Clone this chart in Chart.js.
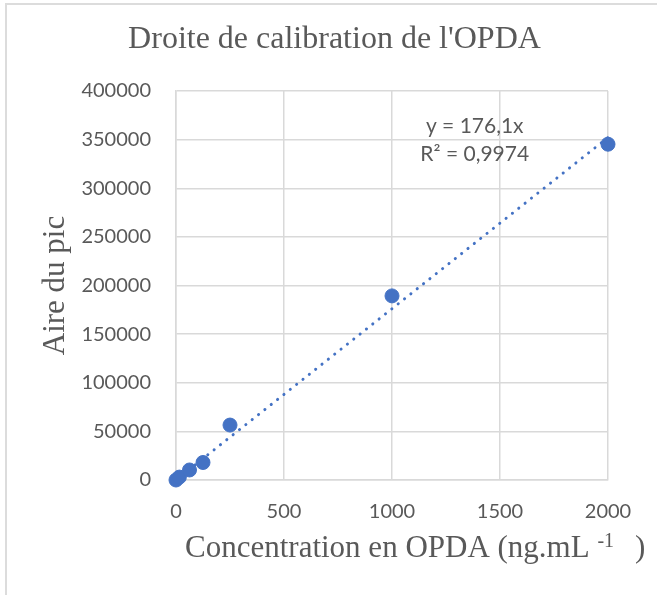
<!DOCTYPE html>
<html><head><meta charset="utf-8">
<script src="https://cdn.jsdelivr.net/npm/chart.js@4"></script>
<style>html,body{margin:0;padding:0;background:#fff;}#wrap{width:657px;height:595px;}</style>
</head><body><div id="wrap"><canvas id="c" width="657" height="595"></canvas></div>
<script>
const concentrations = [0, 15.6, 62.5, 125, 250, 1000, 2000];
const peakAreas = [0, 3000, 10300, 18000, 56500, 189300, 345300];
const trendX = [0, 2000];
const trendY = [0, 352200];
const xTicks = [0, 500, 1000, 1500, 2000];
const yTicks = [0, 50000, 100000, 150000, 200000, 250000, 300000, 350000, 400000];
const equationLines = ['y = 176,1x', 'R² = 0,9974'];
const equationAnchor = [1383, 364000, 335000];
const xTitleParts = ['Concentration en OPDA (ng.mL', '-1', ')'];

const TXT = '#595959', GRID = '#d9d9d9', BLUE = '#4472C4';
const tickFont = {family: 'Lato', size: 20};
const serif = {family: 'Liberation Serif', size: 31, weight: 'normal'};

const frame = {
  id: 'frame',
  beforeDraw(chart) {
    const c = chart.ctx; c.save();
    c.strokeStyle = '#dcdcdc'; c.lineWidth = 2;
    c.beginPath(); c.moveTo(6, 595); c.lineTo(6, 4); c.lineTo(657, 4); c.stroke();
    c.restore();
  }
};
const texts = {
  id: 'texts',
  afterDatasetsDraw(chart) {
    const c = chart.ctx, sx = chart.scales.x, sy = chart.scales.y;
    c.save();
    c.font = '21px Lato'; c.fillStyle = TXT; c.textAlign = 'center'; c.textBaseline = 'middle';
    const x = sx.getPixelForValue(equationAnchor[0]);
    c.fillText(equationLines[0], x, sy.getPixelForValue(equationAnchor[1]));
    c.fillText(equationLines[1], x, sy.getPixelForValue(equationAnchor[2]));
    // x-axis title with superscript
    c.textAlign = 'left'; c.textBaseline = 'alphabetic';
    const base = sx.bottom - 38.5;
    let px = sx.left + 9;
    c.font = '31px "Liberation Serif"';
    c.fillText(xTitleParts[0], px, base);
    px += c.measureText(xTitleParts[0] + ' ').width;
    c.font = '20px "Liberation Serif"';
    c.fillText(xTitleParts[1], px, base - 10);
    px += c.measureText(xTitleParts[1]).width + 21;
    c.font = '31px "Liberation Serif"';
    c.fillText(xTitleParts[2], px, base);
    c.restore();
  }
};

new Chart(document.getElementById('c'), {
  type: 'scatter',
  data: {
    datasets: [
      {
        label: 'Aire du pic',
        data: concentrations.map((x, i) => ({x, y: peakAreas[i]})),
        backgroundColor: BLUE, borderColor: BLUE, pointRadius: 7, pointHoverRadius: 7,
        showLine: false, clip: false
      },
      {
        label: 'Linéaire',
        data: trendX.map((x, i) => ({x, y: trendY[i]})),
        showLine: true, pointRadius: 0, borderColor: BLUE, borderWidth: 3,
        borderDash: [0.1, 8], borderCapStyle: 'round', clip: false
      }
    ]
  },
  options: {
    responsive: false, animation: false, devicePixelRatio: 1,
    layout: {padding: {left: 12, right: 0, top: 0, bottom: 0}},
    plugins: {
      legend: {display: false}, tooltip: {enabled: false},
      title: {display: true, text: "Droite de calibration de l'OPDA", color: TXT,
        font: {family: 'Liberation Serif', size: 32, weight: 'normal'}, padding: {top: 20, bottom: 32.6}}
    },
    scales: {
      x: {
        type: 'linear', min: 0, max: 2000,
        afterBuildTicks: s => { s.ticks = xTicks.map(v => ({value: v})); },
        afterFit: s => { s.height = 115; },
        ticks: {color: TXT, font: tickFont, padding: 20, maxRotation: 0, callback: v => String(v)},
        grid: {color: GRID, lineWidth: 1.5, drawTicks: false},
        border: {color: GRID, width: 1.5},
        title: {display: false}
      },
      y: {
        type: 'linear', min: 0, max: 400000,
        afterBuildTicks: s => { s.ticks = yTicks.map(v => ({value: v})); },
        afterFit: s => { s.width = 164; },
        ticks: {color: TXT, font: tickFont, padding: 25, callback: v => String(v)},
        grid: {color: GRID, lineWidth: 1.5, drawTicks: false},
        border: {color: GRID, width: 1.5},
        title: {display: true, text: 'Aire du pic', color: TXT, font: serif, padding: {top: 25, bottom: 0}}
      },
      yRight: {
        type: 'linear', position: 'right', min: 0, max: 400000,
        grid: {display: false, drawOnChartArea: false}, ticks: {display: false}, border: {display: false},
        afterFit: s => { s.width = 49; }
      }
    }
  },
  plugins: [frame, texts]
});
</script></body></html>
